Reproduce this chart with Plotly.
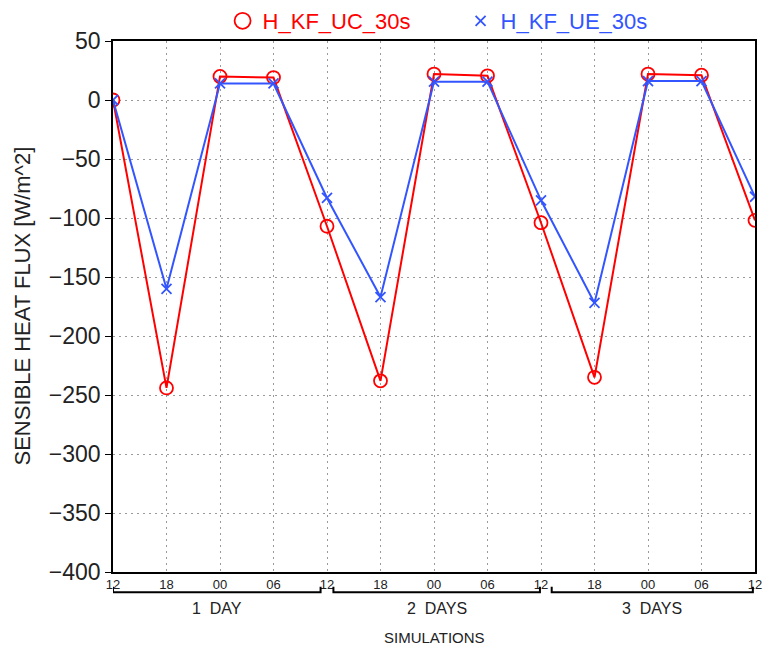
import plotly.graph_objects as go

hours = ["12", "18", "00", "06", "12", "18", "00", "06", "12", "18", "00", "06", "12"]
steps = list(range(len(hours)))
uc_values = [0, -244, 20, 19, -107, -238, 22, 20.5, -104, -235, 22, 21, -102]
ue_values = [0, -160, 14, 14, -83, -167, 15.5, 15.5, -85, -172, 16, 16, -82]
y_ticks = [50, 0, -50, -100, -150, -200, -250, -300, -350, -400]
groups = ["1  DAY", "2  DAYS", "3  DAYS"]

RED = "#ff0000"
BLUE = "#3355ff"
FONT = "Liberation Sans"
GRID = dict(showgrid=True, gridcolor="#9a9a9a", griddash="2px,4px", gridwidth=1)

fig = go.Figure()
fig.add_trace(go.Scatter(x=steps, y=uc_values, mode="lines+markers", showlegend=False,
                         line=dict(color=RED, width=2),
                         marker=dict(symbol="circle-open", size=13, color=RED, line=dict(width=1.8))))
fig.add_trace(go.Scatter(x=steps, y=ue_values, mode="lines+markers", showlegend=False,
                         line=dict(color=BLUE, width=2),
                         marker=dict(symbol="x-thin-open", size=10, color=BLUE, line=dict(width=1.8, color=BLUE))))
# legend-only entries
fig.add_trace(go.Scatter(x=[None], y=[None], mode="markers", name=f"<span style='color:{RED}'>H_KF_UC_30s</span>",
                         marker=dict(symbol="circle-open", size=17, color=RED, line=dict(width=1.8))))
fig.add_trace(go.Scatter(x=[None], y=[None], mode="markers", name=f"<span style='color:{BLUE}'>H_KF_UE_30s</span>",
                         marker=dict(symbol="x-thin-open", size=10, color=BLUE, line=dict(width=1.8, color=BLUE))))

fig.update_layout(
    width=767, height=645,
    margin=dict(l=113, r=12, t=41, b=73, autoexpand=False),
    paper_bgcolor="white", plot_bgcolor="white",
    font=dict(family=FONT, color="#222"),
    legend=dict(orientation="h", x=0.1707, xanchor="left", y=1.0, yanchor="top", yref="container",
                font=dict(size=22, family=FONT), itemwidth=30, entrywidth=193, tracegroupgap=0,
                bgcolor="rgba(0,0,0,0)"),
    xaxis=dict(range=[0, 12], tickvals=steps, ticktext=hours, **GRID,
               showline=True, linecolor="black", linewidth=1.5, mirror=True, automargin=False,
               ticks="", tickfont=dict(size=13), zeroline=False),
    yaxis=dict(range=[-400, 50], tickvals=y_ticks, **GRID,
               showline=True, linecolor="black", linewidth=1.5, mirror=True, automargin=False,
               ticks="outside", ticklen=6, tickcolor="black", tickfont=dict(size=23),
               zeroline=False),
)

fig.add_annotation(x=-0.1417, y=0.5, xref="paper", yref="paper", text="SENSIBLE HEAT FLUX [W/m^2]",
                   textangle=-90, showarrow=False, font=dict(size=22, color="#222"),
                   xanchor="center", yanchor="middle")

# group brackets below the x axis
bounds = [(0.0, 3.88), (4.12, 7.98), (8.2, 11.96)]
for (a, b), label in zip(bounds, groups):
    fig.add_shape(type="path", xref="x", yref="paper",
                  path=f"M {a} -0.028 L {a} -0.038 L {b} -0.038 L {b} -0.028",
                  line=dict(color="black", width=2))
    fig.add_annotation(x=(a + b) / 2, y=-0.068, xref="x", yref="paper", text=label,
                       showarrow=False, font=dict(size=16, color="#222"), yanchor="middle")
fig.add_annotation(x=0.5, y=-0.123, xref="paper", yref="paper", text="SIMULATIONS",
                   showarrow=False, font=dict(size=15, color="#222"), yanchor="middle")

fig.write_html("out.html")
